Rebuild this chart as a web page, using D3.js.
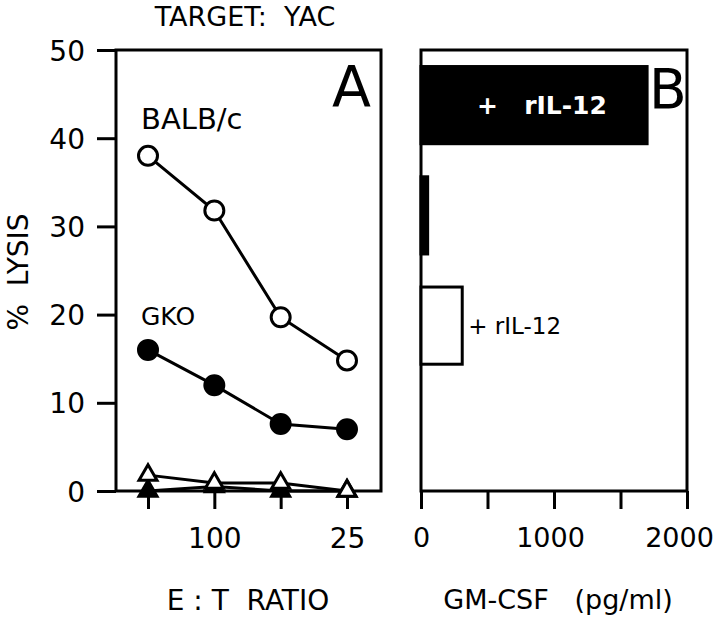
<!DOCTYPE html>
<html><head><meta charset="utf-8">
<script src="https://cdn.jsdelivr.net/npm/d3@7"></script>
<style>body{margin:0;background:#fff}text{font-family:"DejaVu Sans",sans-serif;fill:#000}</style>
</head><body><svg id="c" width="720" height="621"></svg>
<script>
// Panel A data
const ratios = ["200", "100", "50", "25"];
const ratioLabels = ["", "100", "", "25"];
const balbc = [38, 31.8, 19.7, 14.8];
const gko = [16, 12, 7.6, 7];
const openTri = [1.8, 0.9, 0.9, 0];
const filledTri = [0, 0.5, 0, 0];
const yTicks = [0, 10, 20, 30, 40, 50];
// Panel B data
const bGroups = ["BALB/c + rIL-12", "BALB/c", "GKO + rIL-12", "GKO"];
const bValues = [1700, 50, 310, 0];
const bFill = ["#000", "#000", "#fff", "#fff"];
const bTicks = [0, 500, 1000, 1500, 2000];
const bTickLabels = ["0", "", "1000", "", "2000"];

const svg = d3.select("#c");
const plotTop = 50, plotBottom = 491;

// ---- Panel A
const xA = d3.scalePoint().domain(ratios).range([148, 347]);
const yA = d3.scaleLinear().domain([0, 50]).range([plotBottom, plotTop]);
const gA = svg.append("g");
gA.append("rect").attr("x", 116).attr("y", plotTop).attr("width", 381 - 116).attr("height", plotBottom - plotTop)
  .attr("fill", "none").attr("stroke", "#000").attr("stroke-width", 3);
const yAxis = d3.axisLeft(yA).tickValues(yTicks).tickSize(19).tickPadding(12);
gA.append("g").attr("transform", "translate(116,0)").call(yAxis)
  .call(g => { g.select(".domain").remove(); g.attr("font-family", null); g.selectAll("line").attr("stroke-width", 3);
    g.selectAll("text").attr("font-size", 28).attr("dy", "0.36em"); });
const xAxisA = d3.axisBottom(xA).tickFormat((d, i) => ratioLabels[i]).tickSize(18).tickPadding(19);
gA.append("g").attr("transform", `translate(0,${plotBottom})`).call(xAxisA)
  .call(g => { g.select(".domain").remove(); g.attr("font-family", null); g.selectAll("line").attr("stroke-width", 3);
    g.selectAll("text").attr("font-size", 28); });

const line = d3.line().x((d, i) => xA(ratios[i])).y(d => yA(d));
function series(vals, kind) {
  gA.append("path").attr("d", line(vals)).attr("fill", "none").attr("stroke", "#000").attr("stroke-width", 3);
  const sel = gA.selectAll(null).data(vals).enter();
  if (kind === "oc" || kind === "fc") {
    sel.append("circle").attr("cx", (d, i) => xA(ratios[i])).attr("cy", d => yA(d)).attr("r", 9.5)
      .attr("fill", kind === "oc" ? "#fff" : "#000").attr("stroke", "#000").attr("stroke-width", 3);
  } else {
    const tri = d3.symbol().type(d3.symbolTriangle).size(140);
    sel.append("path").attr("d", tri)
      .attr("transform", (d, i) => `translate(${xA(ratios[i])},${yA(d)})`)
      .attr("fill", kind === "ot" ? "#fff" : "#000").attr("stroke", "#000").attr("stroke-width", 3);
  }
}
series(filledTri, "ft");
series(openTri, "ot");
series(gko, "fc");
series(balbc, "oc");

gA.append("text").attr("x", 141).attr("y", 129).attr("font-size", 29).text("BALB/c");
gA.append("text").attr("x", 141).attr("y", 325).attr("font-size", 25).text("GKO");
gA.append("text").attr("x", 332).attr("y", 107).attr("font-size", 57).text("A");
svg.append("text").attr("x", 245).attr("y", 26).attr("text-anchor", "middle").attr("font-size", 27)
  .attr("xml:space", "preserve").text("TARGET:  YAC");
svg.append("text").attr("transform", "translate(28,272) rotate(-90)").attr("text-anchor", "middle")
  .attr("font-size", 28).attr("xml:space", "preserve").text("%  LYSIS");
svg.append("text").attr("x", 248).attr("y", 610).attr("text-anchor", "middle").attr("font-size", 28)
  .attr("xml:space", "preserve").text("E : T  RATIO");

// ---- Panel B
const xB = d3.scaleLinear().domain([0, 2000]).range([421, 687]);
const yB = d3.scaleBand().domain(bGroups).range([plotTop, plotBottom]).paddingInner(0.3).paddingOuter(0.15);
const gB = svg.append("g");
gB.append("rect").attr("x", 421).attr("y", plotTop).attr("width", 687 - 421).attr("height", plotBottom - plotTop)
  .attr("fill", "none").attr("stroke", "#000").attr("stroke-width", 3);
gB.selectAll(null).data(bValues).enter().append("rect")
  .attr("x", xB(0)).attr("y", (d, i) => yB(bGroups[i])).attr("width", d => xB(d) - xB(0))
  .attr("height", yB.bandwidth()).attr("fill", (d, i) => bFill[i]).attr("stroke", "#000").attr("stroke-width", 3);
const xAxisB = d3.axisBottom(xB).tickValues(bTicks).tickFormat((d, i) => bTickLabels[i]).tickSize(18).tickPadding(19);
gB.append("g").attr("transform", `translate(0,${plotBottom})`).call(xAxisB)
  .call(g => { g.select(".domain").remove(); g.attr("font-family", null); g.selectAll("line").attr("stroke-width", 3);
    g.selectAll("text").attr("font-size", 27).attr("dx", (d, i) => i === 0 ? 0 : (i === 4 ? -8 : -4)); });
gB.append("text").attr("x", 542).attr("y", yB(bGroups[0]) + yB.bandwidth() / 2).attr("dy", "0.36em")
  .attr("text-anchor", "middle").attr("font-size", 25).attr("font-weight", "bold").style("fill", "#fff")
  .attr("xml:space", "preserve").text("+   rIL-12");
gB.append("text").attr("x", xB(bValues[2]) + 6).attr("y", yB(bGroups[2]) + yB.bandwidth() / 2).attr("dy", "0.36em")
  .attr("font-size", 23).text("+ rIL-12");
gB.append("text").attr("x", 649).attr("y", 108).attr("font-size", 55).text("B");
svg.append("text").attr("x", 558).attr("y", 609).attr("text-anchor", "middle").attr("font-size", 27)
  .attr("xml:space", "preserve").text("GM-CSF   (pg/ml)");
</script></body></html>
